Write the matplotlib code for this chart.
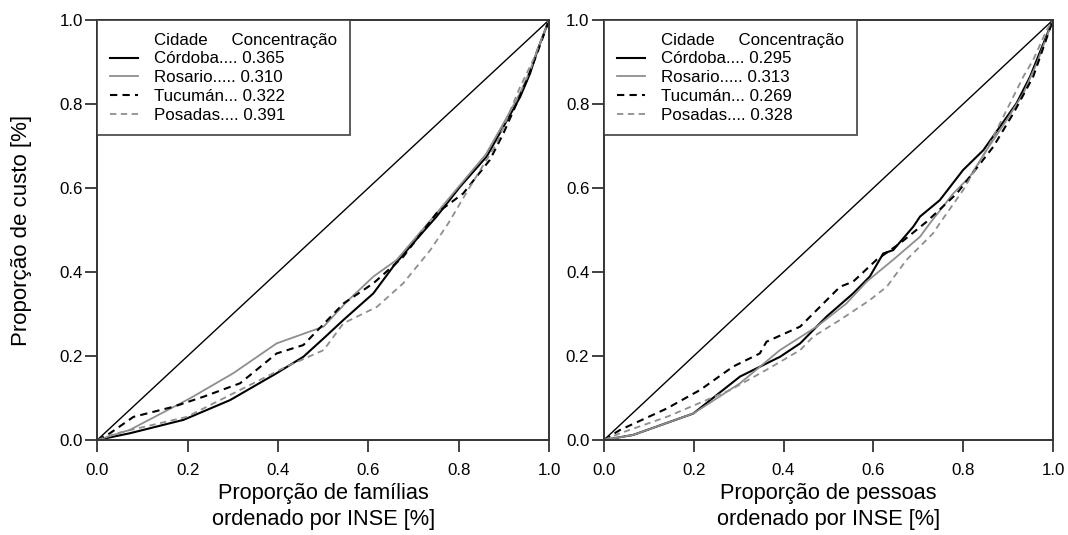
import matplotlib.pyplot as plt
from matplotlib.lines import Line2D

plt.rcParams['font.family'] = ['Liberation Sans', 'DejaVu Sans']

# Curvas de concentração - famílias ordenadas por INSE
fam_cordoba_x = [0, 0.072, 0.191, 0.294, 0.397, 0.456, 0.501, 0.545, 0.611, 0.655, 0.692, 0.751, 0.803, 0.862, 0.899, 0.936, 0.958, 0.975, 1]
fam_cordoba_y = [0, 0.016, 0.048, 0.095, 0.159, 0.198, 0.242, 0.286, 0.349, 0.413, 0.460, 0.532, 0.603, 0.675, 0.746, 0.817, 0.873, 0.930, 1]
fam_rosario_x = [0, 0.072, 0.205, 0.301, 0.397, 0.449, 0.501, 0.552, 0.611, 0.663, 0.700, 0.751, 0.803, 0.860, 0.897, 0.934, 0.957, 0.975, 1]
fam_rosario_y = [0, 0.024, 0.099, 0.159, 0.230, 0.250, 0.270, 0.329, 0.389, 0.429, 0.476, 0.540, 0.607, 0.680, 0.750, 0.822, 0.877, 0.930, 1]
fam_tucuman_x = [0, 0.028, 0.080, 0.168, 0.235, 0.316, 0.397, 0.456, 0.545, 0.611, 0.677, 0.751, 0.810, 0.869, 0.899, 0.951, 0.975, 1]
fam_tucuman_y = [0, 0.016, 0.055, 0.079, 0.103, 0.135, 0.206, 0.226, 0.325, 0.373, 0.436, 0.540, 0.587, 0.667, 0.730, 0.857, 0.925, 1]
fam_posadas_x = [0, 0.043, 0.198, 0.419, 0.501, 0.545, 0.619, 0.677, 0.737, 0.777, 0.825, 0.884, 0.936, 0.965, 1]
fam_posadas_y = [0, 0.016, 0.055, 0.175, 0.214, 0.278, 0.317, 0.373, 0.452, 0.516, 0.603, 0.706, 0.841, 0.905, 1]

# Curvas de concentração - pessoas ordenadas por INSE
pes_cordoba_x = [0, 0.065, 0.199, 0.303, 0.392, 0.437, 0.496, 0.555, 0.592, 0.622, 0.644, 0.689, 0.704, 0.748, 0.800, 0.845, 0.882, 0.919, 0.949, 0.964, 1]
pes_cordoba_y = [0, 0.012, 0.063, 0.151, 0.198, 0.230, 0.294, 0.349, 0.389, 0.444, 0.452, 0.508, 0.532, 0.571, 0.643, 0.690, 0.746, 0.802, 0.865, 0.905, 1]
pes_rosario_x = [0, 0.065, 0.199, 0.303, 0.392, 0.474, 0.540, 0.585, 0.644, 0.704, 0.726, 0.778, 0.815, 0.852, 0.897, 0.934, 0.964, 1]
pes_rosario_y = [0, 0.012, 0.063, 0.135, 0.214, 0.270, 0.325, 0.377, 0.429, 0.484, 0.516, 0.587, 0.627, 0.690, 0.762, 0.825, 0.897, 1]
pes_tucuman_x = [0, 0.036, 0.140, 0.214, 0.288, 0.347, 0.362, 0.437, 0.496, 0.526, 0.555, 0.607, 0.659, 0.719, 0.786, 0.867, 0.912, 0.956, 1]
pes_tucuman_y = [0, 0.024, 0.075, 0.119, 0.175, 0.206, 0.234, 0.270, 0.333, 0.365, 0.377, 0.429, 0.468, 0.520, 0.587, 0.698, 0.778, 0.865, 1]
pes_posadas_x = [0, 0.036, 0.140, 0.281, 0.362, 0.437, 0.466, 0.526, 0.592, 0.630, 0.674, 0.733, 0.748, 0.800, 0.852, 0.897, 0.934, 0.956, 0.986, 1]
pes_posadas_y = [0, 0.016, 0.055, 0.119, 0.167, 0.214, 0.246, 0.286, 0.333, 0.365, 0.429, 0.492, 0.516, 0.595, 0.690, 0.786, 0.865, 0.905, 0.976, 1]

cidades = ['Córdoba....', 'Rosario.....', 'Tucumán...', 'Posadas....']
conc_familias = ['0.365', '0.310', '0.322', '0.391']
conc_pessoas = ['0.295', '0.313', '0.269', '0.328']

estilos = [
    dict(color='black', linestyle='-', linewidth=1.5),
    dict(color='#8e8e8e', linestyle='-', linewidth=1.3),
    dict(color='black', linestyle=(0, (3.5, 2.5)), linewidth=1.5),
    dict(color='#8e8e8e', linestyle=(0, (3.5, 2.5)), linewidth=1.3),
]

fig = plt.figure(figsize=(10.68, 5.35), dpi=100)
ax1 = fig.add_axes([0.0911, 0.1776, 0.423, 0.785])
ax2 = fig.add_axes([0.5655, 0.1776, 0.4204, 0.785])


def painel(ax, curvas, conc, xlabel):
    ax.plot([0, 1], [0, 1], color='black', linewidth=1.0)
    for (x, y), est in zip(curvas, estilos):
        ax.plot(x, y, **est)
    ax.set_xlim(0, 1)
    ax.set_ylim(0, 1)
    ticks = [0, 0.2, 0.4, 0.6, 0.8, 1.0]
    ax.set_xticks(ticks)
    ax.set_yticks(ticks)
    ax.set_xticklabels(['%.1f' % t for t in ticks])
    ax.set_yticklabels(['%.1f' % t for t in ticks])
    ax.tick_params(direction='out', length=8.5, width=1.3, labelsize=12.2, color='#333333')
    ax.tick_params(axis='x', pad=8)
    ax.tick_params(axis='y', pad=2)
    for s in ax.spines.values():
        s.set_linewidth(1.4)
        s.set_color('#333333')
    ax.set_xlabel(xlabel, fontsize=15.7, linespacing=1.3, labelpad=4)

    handles = [Line2D([], [], linestyle='none')]
    labels = ['Cidade     Concentração']
    for est, nome, c in zip(estilos, cidades, conc):
        handles.append(Line2D([], [], **est))
        labels.append('%s %s' % (nome, c))
    leg = ax.legend(handles, labels, loc='upper left', bbox_to_anchor=(0, 1),
                    borderaxespad=0, fontsize=12.2, frameon=True, fancybox=False,
                    handlelength=1.65, handletextpad=0.95, labelspacing=0.22,
                    borderpad=0.75)
    leg.get_frame().set_edgecolor('#333333')
    leg.get_frame().set_linewidth(1.4)


painel(ax1, [(fam_cordoba_x, fam_cordoba_y), (fam_rosario_x, fam_rosario_y),
             (fam_tucuman_x, fam_tucuman_y), (fam_posadas_x, fam_posadas_y)],
       conc_familias, 'Proporção de famílias\nordenado por INSE [%]')
painel(ax2, [(pes_cordoba_x, pes_cordoba_y), (pes_rosario_x, pes_rosario_y),
             (pes_tucuman_x, pes_tucuman_y), (pes_posadas_x, pes_posadas_y)],
       conc_pessoas, 'Proporção de pessoas\nordenado por INSE [%]')
ax1.set_ylabel('Proporção de custo [%]', fontsize=16)
ax1.yaxis.set_label_coords(-0.145, 0.5)

fig.savefig('out.png', dpi=100)
